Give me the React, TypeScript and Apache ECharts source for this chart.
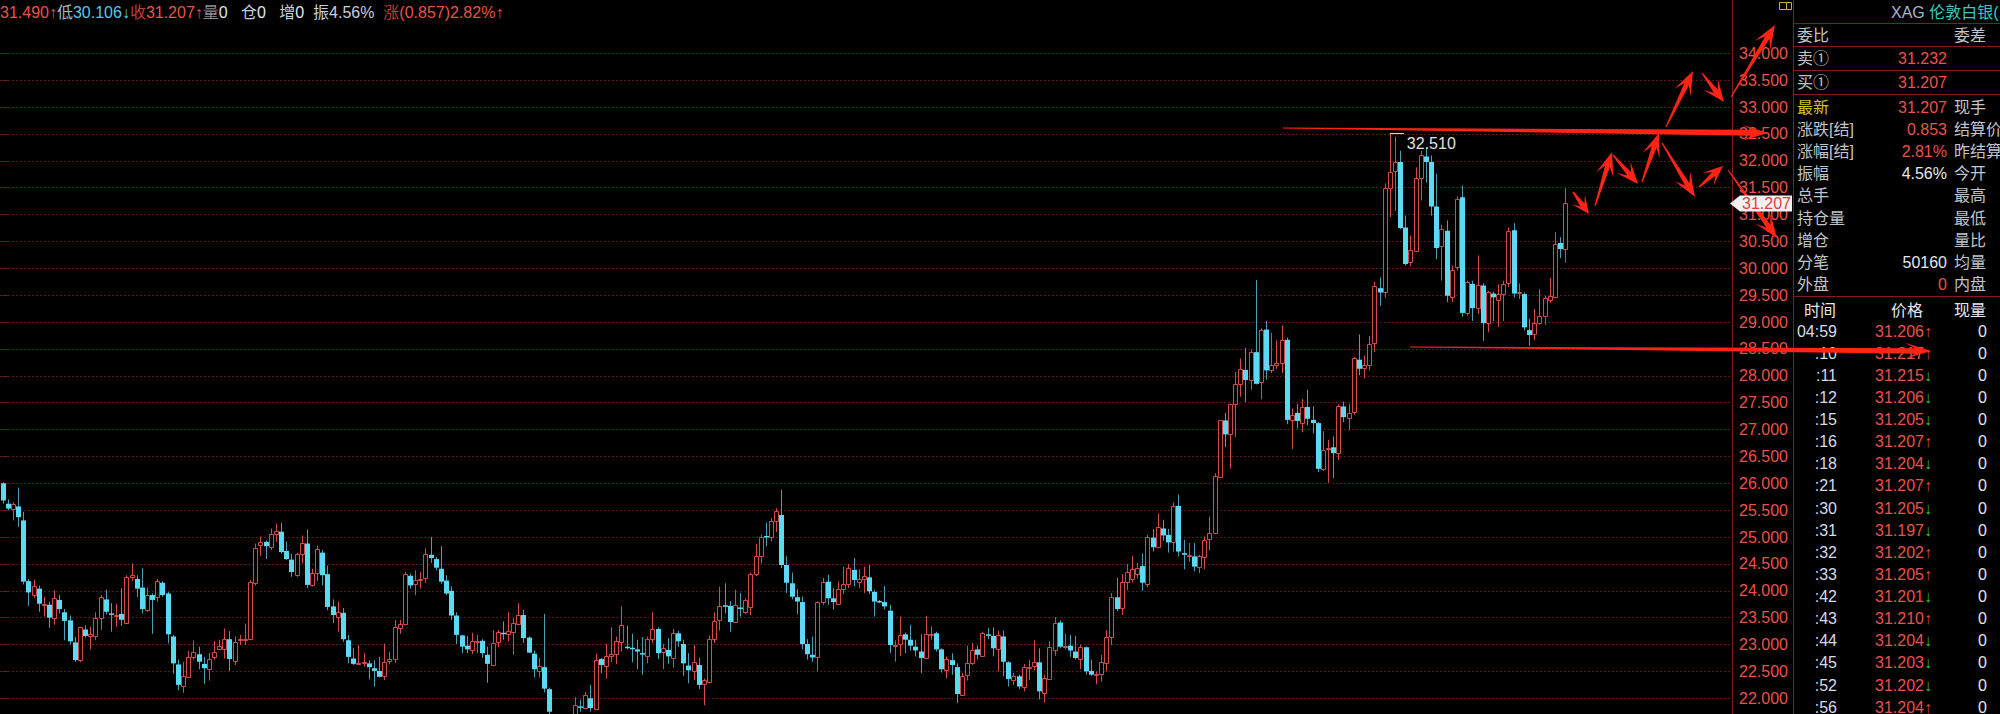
import React, { useEffect, useRef } from "react";
import * as echarts from "echarts";

// ---------- data (XAG candles, oldest -> newest) ----------
const OPEN = [
  26.00, 25.62, 25.53, 25.57, 25.31, 24.18, 23.92, 24.04, 23.73, 23.74,
  23.50, 23.83, 23.60, 23.45, 23.04, 22.71, 23.28, 23.16, 23.16, 23.50,
  23.84, 23.58, 23.54, 23.57, 23.41, 24.25, 24.22, 24.06, 23.64, 23.92,
  23.89, 24.15, 23.95, 23.15, 22.63, 22.23, 22.40, 22.76, 22.82, 22.64,
  22.54, 22.77, 22.92, 22.92, 23.10, 22.69, 23.09, 23.09, 23.10, 24.14,
  24.85, 24.91, 24.82, 25.06, 25.10, 24.74, 24.58, 24.30, 24.68, 24.88,
  24.11, 24.34, 24.71, 24.31, 23.71, 23.52, 23.59, 23.08, 22.74, 22.64,
  22.66, 22.65, 22.56, 22.51, 22.42, 22.69, 22.73, 23.31, 23.39, 24.28,
  24.12, 24.20, 24.23, 24.67, 24.59, 24.41, 24.19, 24.00, 23.54, 23.17,
  22.98, 22.90, 23.05, 23.07, 22.81, 22.62, 23.04, 23.22, 23.19, 23.24,
  23.39, 23.55, 23.13, 22.83, 22.51, 22.58, 22.17, 21.70, 21.45, 21.30,
  21.50, 21.65, 21.85, 21.82, 22.00, 21.80, 22.73, 22.60, 22.78, 22.83,
  23.04, 22.96, 22.94, 22.91, 22.84, 22.79, 23.10, 23.29, 22.87, 22.90,
  22.75, 23.21, 23.01, 22.61, 22.51, 22.62, 22.27, 22.30, 23.10, 23.46,
  23.73, 23.72, 23.42, 23.69, 23.60, 23.69, 24.32, 24.65, 25.02, 25.01,
  25.29, 25.41, 24.48, 24.14, 23.88, 23.79, 23.01, 22.81, 22.76, 23.79,
  24.17, 23.86, 23.76, 24.03, 24.13, 24.39, 24.16, 24.22, 24.25, 23.98,
  23.81, 23.79, 23.63, 22.99, 23.01, 23.19, 23.09, 22.96, 22.87, 22.75,
  23.18, 23.21, 22.91, 22.53, 22.71, 22.58, 22.06, 22.44, 22.65, 22.91,
  22.78, 23.19, 23.16, 22.91, 23.15, 22.67, 22.34, 22.41, 22.21, 22.58,
  22.60, 22.67, 22.10, 22.36, 22.90, 23.41, 22.95, 22.98, 22.87, 22.73,
  22.95, 22.51, 22.44, 22.46, 22.65, 23.14, 23.88, 23.68, 24.16, 24.22,
  24.31, 24.46, 24.13, 24.99, 24.81, 25.16, 25.04, 24.90, 25.58, 24.70,
  24.66, 24.64, 24.44, 24.62, 24.96, 25.08, 26.11, 27.17, 26.92, 27.47,
  27.85, 28.11, 27.93, 28.44, 27.88, 28.86, 28.11, 28.20, 28.23, 28.67,
  27.17, 27.31, 27.12, 27.42, 27.18, 27.12, 26.27, 26.65, 26.67, 26.56,
  27.43, 27.22, 27.33, 28.30, 28.15, 28.20, 28.61, 29.63, 29.55, 31.50,
  31.81, 31.98, 30.76, 30.11, 30.33, 31.68, 32.08, 31.98, 31.15, 30.41,
  30.70, 29.46, 30.02, 31.32, 29.17, 29.71, 29.27, 29.68, 28.98, 29.53,
  29.41, 29.53, 29.72, 30.71, 29.55, 29.52, 28.85, 28.78, 28.98, 29.12,
  29.41, 29.47, 30.47, 30.35,
];
const CLOSE = [
  25.68, 25.53, 25.61, 25.37, 24.17, 23.97, 24.09, 23.76, 23.75, 23.50,
  23.86, 23.66, 23.44, 23.06, 22.71, 23.32, 23.16, 23.20, 23.50, 23.89,
  23.61, 23.57, 23.55, 23.46, 24.26, 24.29, 24.04, 23.66, 23.92, 23.83,
  24.18, 23.92, 23.19, 22.65, 22.25, 22.41, 22.77, 22.86, 22.68, 22.56,
  22.74, 22.87, 22.97, 23.10, 22.73, 23.05, 23.10, 23.11, 24.17, 24.79,
  24.91, 24.83, 25.06, 25.12, 24.72, 24.59, 24.35, 24.68, 24.89, 24.11,
  24.34, 24.77, 24.29, 23.70, 23.55, 23.61, 23.10, 22.77, 22.64, 22.65,
  22.67, 22.58, 22.51, 22.40, 22.68, 22.73, 23.32, 23.39, 24.32, 24.10,
  24.20, 24.22, 24.69, 24.61, 24.43, 24.17, 23.95, 23.54, 23.18, 22.96,
  22.91, 23.06, 23.06, 22.84, 22.64, 23.03, 23.23, 23.21, 23.26, 23.41,
  23.55, 23.12, 22.85, 22.54, 22.60, 22.18, 21.75, 21.45, 21.30, 21.50,
  21.65, 21.88, 21.83, 22.06, 21.82, 22.72, 22.62, 22.79, 22.83, 23.06,
  23.37, 22.95, 22.93, 22.87, 22.83, 23.10, 23.29, 22.84, 22.93, 22.78,
  23.21, 23.06, 22.65, 22.52, 22.67, 22.25, 22.34, 23.10, 23.44, 23.72,
  23.71, 23.42, 23.74, 23.68, 23.83, 24.32, 24.64, 25.01, 25.00, 25.30,
  25.48, 24.48, 24.15, 23.89, 23.80, 23.01, 22.82, 22.76, 23.79, 24.17,
  23.86, 23.79, 24.03, 24.12, 24.42, 24.20, 24.22, 24.27, 23.99, 23.80,
  23.80, 23.71, 22.99, 23.00, 23.18, 23.09, 22.98, 22.89, 22.75, 23.19,
  23.20, 22.91, 22.54, 22.73, 22.62, 22.08, 22.42, 22.65, 22.90, 22.81,
  23.21, 23.17, 22.93, 23.18, 22.68, 22.36, 22.42, 22.22, 22.58, 22.59,
  22.67, 22.13, 22.37, 22.95, 23.41, 22.96, 22.97, 22.89, 22.75, 22.95,
  22.50, 22.44, 22.45, 22.67, 23.14, 23.88, 23.66, 24.17, 24.35, 24.40,
  24.43, 24.15, 25.01, 24.81, 25.18, 25.03, 24.90, 25.58, 24.73, 24.67,
  24.67, 24.45, 24.64, 24.95, 25.08, 26.14, 27.17, 26.91, 27.47, 27.84,
  28.13, 27.92, 28.44, 27.85, 28.86, 28.10, 28.21, 28.23, 28.67, 27.18,
  27.28, 27.16, 27.42, 27.20, 27.12, 26.27, 26.62, 26.66, 26.56, 27.43,
  27.23, 27.31, 28.34, 28.13, 28.20, 28.60, 29.67, 29.55, 31.50, 31.79,
  31.98, 30.75, 30.08, 30.34, 31.68, 32.10, 31.98, 31.15, 30.38, 30.73,
  29.49, 29.97, 31.29, 29.17, 29.74, 29.26, 29.69, 28.98, 29.55, 29.46,
  29.52, 29.71, 30.70, 29.53, 29.56, 28.90, 28.76, 28.98, 29.12, 29.45,
  29.49, 30.45, 30.36, 31.207,
];
const HIGH = [
  26.02, 25.70, 25.65, 25.92, 25.47, 24.22, 24.21, 24.10, 23.89, 23.80,
  24.01, 23.92, 23.66, 23.54, 23.14, 23.33, 23.36, 23.33, 23.60, 23.92,
  24.02, 23.77, 23.76, 24.05, 24.29, 24.51, 24.29, 24.42, 24.06, 23.95,
  24.22, 24.18, 23.98, 23.18, 22.72, 22.68, 22.88, 23.08, 22.96, 22.77,
  22.84, 23.06, 23.09, 23.30, 23.25, 23.15, 23.18, 23.39, 24.20, 24.88,
  25.01, 24.94, 25.16, 25.25, 25.27, 24.91, 24.69, 24.71, 25.03, 25.14,
  24.41, 24.84, 24.76, 24.47, 23.84, 23.80, 23.68, 23.18, 22.93, 22.99,
  22.84, 22.71, 22.71, 22.77, 23.02, 22.87, 23.46, 23.46, 24.35, 24.32,
  24.38, 24.35, 24.79, 25.00, 24.63, 24.83, 24.29, 24.08, 23.60, 23.18,
  23.16, 23.22, 23.18, 23.10, 22.96, 23.27, 23.27, 23.43, 23.60, 23.49,
  23.77, 23.65, 23.15, 22.89, 22.75, 23.57, 22.20, 21.70, 21.52, 21.58,
  21.69, 22.02, 21.97, 22.12, 22.25, 22.83, 22.75, 23.01, 23.32, 23.15,
  23.71, 23.35, 23.20, 23.09, 23.14, 23.15, 23.60, 23.32, 23.01, 23.12,
  23.29, 23.26, 23.09, 22.84, 22.99, 22.75, 22.37, 23.17, 23.60, 24.08,
  24.14, 23.81, 24.02, 23.96, 23.86, 24.34, 24.87, 25.04, 25.27, 25.35,
  25.54, 25.88, 24.64, 24.34, 24.03, 23.89, 23.10, 23.15, 23.80, 24.24,
  24.30, 24.05, 24.17, 24.45, 24.50, 24.61, 24.40, 24.45, 24.48, 24.02,
  23.83, 24.09, 23.74, 23.08, 23.52, 23.22, 23.37, 23.09, 23.19, 23.53,
  23.34, 23.24, 22.93, 22.78, 22.84, 22.65, 22.47, 22.98, 23.03, 22.98,
  23.24, 23.31, 23.32, 23.26, 23.26, 22.69, 22.47, 22.44, 22.64, 22.72,
  23.08, 22.93, 22.44, 23.06, 23.51, 23.45, 23.20, 23.18, 23.16, 23.00,
  22.96, 22.72, 22.50, 22.81, 23.27, 23.96, 24.24, 24.31, 24.50, 24.65,
  24.52, 24.69, 25.04, 25.15, 25.44, 25.32, 25.15, 25.64, 25.79, 24.95,
  24.89, 24.89, 24.67, 25.01, 25.38, 26.19, 27.18, 27.31, 27.48, 28.07,
  28.32, 28.52, 28.49, 29.78, 28.88, 29.02, 28.80, 28.66, 28.94, 28.71,
  27.39, 27.48, 27.57, 27.74, 27.43, 27.14, 26.97, 26.81, 26.87, 27.47,
  27.52, 27.48, 28.35, 28.77, 28.38, 28.74, 29.75, 29.83, 31.58, 32.51,
  32.45, 32.19, 30.98, 30.61, 31.88, 32.19, 32.25, 32.10, 31.76, 30.81,
  30.89, 30.05, 31.34, 31.54, 29.77, 29.77, 30.24, 29.72, 29.58, 29.57,
  29.70, 29.77, 30.76, 30.84, 29.72, 29.55, 29.06, 29.24, 29.61, 29.49,
  29.82, 30.67, 30.58, 31.49,
];
const LOW = [
  25.62, 25.50, 25.31, 25.19, 24.12, 23.72, 23.87, 23.61, 23.52, 23.31,
  23.37, 23.58, 23.08, 23.00, 22.68, 22.67, 23.13, 22.91, 23.08, 23.27,
  23.56, 23.24, 23.33, 23.35, 23.40, 24.18, 23.88, 23.58, 23.61, 23.20,
  23.80, 23.89, 23.02, 22.46, 22.15, 22.10, 22.39, 22.72, 22.54, 22.27,
  22.33, 22.71, 22.90, 22.74, 22.51, 22.62, 22.99, 22.99, 23.08, 24.10,
  24.65, 24.59, 24.76, 24.91, 24.69, 24.57, 24.26, 24.26, 24.51, 24.05,
  24.08, 24.18, 24.10, 23.64, 23.40, 23.24, 23.05, 22.65, 22.62, 22.62,
  22.59, 22.35, 22.22, 22.39, 22.34, 22.63, 22.66, 23.20, 23.36, 24.04,
  23.92, 24.04, 24.15, 24.52, 24.38, 24.13, 23.92, 23.46, 23.01, 22.84,
  22.84, 22.83, 22.84, 22.75, 22.29, 22.60, 22.95, 23.09, 23.06, 22.81,
  23.37, 23.03, 22.84, 22.39, 22.39, 22.11, 21.60, 21.35, 21.22, 21.25,
  21.42, 21.60, 21.75, 21.79, 21.75, 21.79, 22.47, 22.37, 22.67, 22.64,
  22.87, 22.91, 22.67, 22.54, 22.44, 22.65, 23.03, 22.73, 22.54, 22.64,
  22.57, 22.96, 22.42, 22.28, 22.34, 22.17, 21.87, 22.28, 23.03, 23.26,
  23.58, 23.24, 23.40, 23.52, 23.57, 23.55, 24.27, 24.51, 24.83, 24.92,
  25.09, 24.42, 23.96, 23.84, 23.57, 22.91, 22.72, 22.68, 22.50, 23.74,
  23.74, 23.65, 23.74, 23.94, 24.05, 24.08, 24.05, 23.96, 23.94, 23.52,
  23.77, 23.65, 22.84, 22.68, 22.79, 22.84, 22.89, 22.78, 22.47, 22.73,
  23.09, 22.87, 22.48, 22.37, 22.44, 21.91, 22.05, 22.33, 22.62, 22.72,
  22.77, 23.10, 22.78, 22.50, 22.41, 22.22, 22.25, 22.17, 22.13, 22.34,
  22.52, 21.98, 21.92, 22.34, 22.79, 22.93, 22.91, 22.77, 22.72, 22.54,
  22.44, 22.42, 22.26, 22.31, 22.50, 22.99, 23.62, 23.55, 24.01, 24.16,
  24.23, 24.00, 24.07, 24.73, 24.79, 24.93, 24.71, 24.73, 24.64, 24.40,
  24.54, 24.36, 24.33, 24.40, 24.75, 25.07, 26.10, 26.67, 26.27, 26.86,
  27.61, 27.51, 27.74, 27.84, 27.56, 27.93, 28.05, 28.13, 28.05, 27.10,
  26.64, 27.02, 26.95, 27.08, 26.93, 26.21, 26.23, 26.01, 26.10, 26.43,
  27.14, 26.98, 27.28, 28.01, 27.95, 28.10, 28.44, 29.30, 29.45, 30.95,
  31.07, 30.73, 30.05, 30.04, 30.30, 31.26, 31.60, 30.98, 30.17, 29.77,
  29.37, 29.37, 29.96, 29.10, 29.12, 29.02, 29.15, 28.65, 28.81, 29.02,
  28.91, 29.02, 29.65, 29.46, 29.43, 28.84, 28.56, 28.66, 28.95, 28.95,
  29.35, 29.46, 30.19, 30.106,
];

// y-axis ticks
const Y_MIN = 21.5;
const Y_MAX = 34;
const Y_STEP = 0.5;
const Y_LABEL_MIN = 22;

// header strip
const HEADER_PARTS: [string, string][] = [
  ["r", "31.490↑"], ["lb", "低"], ["c", "30.106↓"], ["dr", "收"], ["r", "31.207↑"],
  ["dg", "量"], ["w", "0   "], ["g", "仓"], ["w", "0   "], ["g", "增"], ["w", "0  "],
  ["g", "振"], ["g", "4.56%  "], ["dr", "涨"], ["r", "(0.857)2.82%↑"],
];

// right quote panel
const TITLE_CODE = "XAG ";
const TITLE_NAME = "伦敦白银(";
const BOOK_LABELS = ["卖①", "买①"];
const BOOK_VALUES = ["31.232", "31.207"];
const INFO_LABELS = ["最新", "涨跌[结]", "涨幅[结]", "振幅", "总手", "持仓量", "增仓", "分笔", "外盘"];
const INFO_VALUES = ["31.207", "0.853", "2.81%", "4.56%", "", "", "", "50160", "0"];
const INFO_VALUE_KIND = ["r", "r", "r", "w", "w", "w", "w", "w", "r"];
const INFO_RIGHT = ["现手", "结算价", "昨结算", "今开", "最高", "最低", "量比", "均量", "内盘"];
const TICK_TIMES = ["04:59", ":10", ":11", ":12", ":15", ":16", ":18", ":21", ":30", ":31", ":32", ":33", ":42", ":43", ":44", ":45", ":52", ":56"];
const TICK_PRICES = ["31.206", "31.217", "31.215", "31.206", "31.205", "31.207", "31.204", "31.207", "31.205", "31.197", "31.202", "31.205", "31.201", "31.210", "31.204", "31.203", "31.202", "31.204"];
const TICK_DIRS = ["↑", "↑", "↓", "↓", "↓", "↑", "↓", "↑", "↓", "↓", "↑", "↑", "↓", "↑", "↓", "↓", "↓", "↑"];
const TICK_VOLS = ["0", "0", "0", "0", "0", "0", "0", "0", "0", "0", "0", "0", "0", "0", "0", "0", "0", "0"];

// hand-drawn annotation arrows (pixel coords: tail x, tail y, tip x, tip y, tail width, neck width, head length, head half width)
const ARROWS: number[][] = [
  [1283, 128, 1768, 133, 0.8, 6, 26, 8],
  [1410, 347, 1931, 351, 0.8, 5.5, 26, 8],
  [1573, 192, 1589, 214, 1.5, 5, 18, 8],
  [1595, 206, 1612, 152, 1.2, 5, 24, 9],
  [1613, 155, 1638, 184, 1.2, 5, 22, 9],
  [1642, 182, 1659, 133, 1.2, 5, 24, 9],
  [1662, 143, 1695, 197, 1.2, 5, 24, 9],
  [1699, 187, 1723, 166, 1.2, 5, 20, 8.5],
  [1728, 170, 1777, 238, 1, 5, 24, 9],
  [1666, 127, 1693, 71, 1.2, 5, 24, 9],
  [1702, 73, 1724, 102, 1.2, 5, 22, 9],
  [1731, 97, 1775, 25, 1, 5, 24, 9],
];

// ---------- styles ----------
const FONT = '"Liberation Sans", Arial, "Noto Sans CJK SC", sans-serif';
const RED = "#e8524a";
const CANDLE_RED = "#d44a48";
const CYAN = "#5cdaf4";
const CYAN_WICK = "#4c9fb2";
const GRID_C = "#5e1717";
const FRAME_C = "#7a1e1e";
const GRAY = "#c2c4cc";
const WHITE = "#e4e6ee";
const ARROW_RED = "#ff2414";

const CANDLE_STEP = 5.164;
const FIRST_X = 0.3;
const AXIS_X = 1732;
const PANEL_X = 1794;
const VIEW_H = 714;
const CANVAS_H = 726;

function arrowPoints(a: number[]) {
  const [x1, y1, x2, y2, w0, w1, hl, hw] = a;
  const dx = x2 - x1, dy = y2 - y1;
  const L = Math.hypot(dx, dy);
  const ux = dx / L, uy = dy / L;
  const nx = -uy, ny = ux;
  const neck = [x2 - ux * hl * 0.62, y2 - uy * hl * 0.62];
  const barb = [x2 - ux * hl, y2 - uy * hl];
  return [
    [x1 + nx * w0 / 2, y1 + ny * w0 / 2],
    [neck[0] + nx * w1 / 2, neck[1] + ny * w1 / 2],
    [barb[0] + nx * hw, barb[1] + ny * hw],
    [x2, y2],
    [barb[0] - nx * hw, barb[1] - ny * hw],
    [neck[0] - nx * w1 / 2, neck[1] - ny * w1 / 2],
    [x1 - nx * w0 / 2, y1 - ny * w0 / 2],
  ];
}

function txt(x: number, y: number, text: string, fill: string, align = "left", extra: any = {}) {
  return {
    type: "text",
    x,
    y,
    z: 100,
    silent: true,
    style: { text, fill, fontSize: 16, fontFamily: FONT, align, verticalAlign: "middle", ...extra },
  };
}

function hline(x1: number, x2: number, y: number, color = FRAME_C) {
  return { type: "line", z: 100, silent: true, shape: { x1, y1: y, x2, y2: y }, style: { stroke: color, lineWidth: 1 } };
}

export default function App() {
  const ref = useRef<HTMLDivElement>(null);

  useEffect(() => {
    const chart = echarts.init(ref.current!, null, { renderer: "svg" });
    const data = OPEN.map((o, i) => [i, o, CLOSE[i], LOW[i], HIGH[i]]);
    const gridLeft = FIRST_X - CANDLE_STEP / 2;
    const xMax = -0.5 + (AXIS_X - gridLeft) / CANDLE_STEP;
    const gridTop = 53.3;
    const gridBottom = CANVAS_H - (gridTop + 53.75 * (Y_MAX - Y_MIN));

    chart.setOption({
      animation: false,
      backgroundColor: "#000",
      grid: { left: gridLeft, right: 2000 - AXIS_X, top: gridTop, bottom: gridBottom },
      xAxis: { type: "value", min: -0.5, max: xMax, show: false },
      yAxis: {
        type: "value",
        position: "right",
        min: Y_MIN,
        max: Y_MAX,
        interval: Y_STEP,
        axisLine: { show: false },
        axisTick: { show: true, length: 5, lineStyle: { color: FRAME_C } },
        axisLabel: {
          color: RED,
          fontSize: 16,
          fontFamily: FONT,
          align: "right",
          margin: 56,
          formatter: (v: number) => (v < Y_LABEL_MIN ? "" : v.toFixed(3)),
        },
        splitLine: { show: true, lineStyle: { color: GRID_C, width: 1, type: [2, 2] } },
      },
      series: [
        {
          type: "custom",
          data,
          encode: { x: 0, y: [1, 2, 3, 4] },
          clip: true,
          renderItem: (_p: any, api: any) => {
            const i = api.value(0);
            const o = api.value(1), c = api.value(2), l = api.value(3), h = api.value(4);
            const pO = api.coord([i, o]);
            const yC = api.coord([i, c])[1];
            const yL = api.coord([i, l])[1];
            const yH = api.coord([i, h])[1];
            const xr = Math.round(pO[0]);
            const x = xr + 0.5;
            const top = Math.min(pO[1], yC);
            const bot = Math.max(pO[1], yC);
            if (c >= o) {
              const t = Math.round(top) + 0.5;
              const b = Math.max(Math.round(bot) + 0.5, t + 1);
              return {
                type: "group",
                children: [
                  { type: "line", shape: { x1: x, y1: yH, x2: x, y2: t }, style: { stroke: CANDLE_RED, lineWidth: 1 } },
                  { type: "line", shape: { x1: x, y1: b, x2: x, y2: yL }, style: { stroke: CANDLE_RED, lineWidth: 1 } },
                  { type: "rect", shape: { x: xr - 1.5, y: t, width: 4, height: b - t }, style: { fill: "#000", stroke: CANDLE_RED, lineWidth: 1 } },
                ],
              };
            }
            return {
              type: "group",
              children: [
                { type: "line", shape: { x1: x, y1: yH, x2: x, y2: yL }, style: { stroke: CYAN_WICK, lineWidth: 1 } },
                { type: "rect", shape: { x: xr - 2, y: top, width: 5, height: Math.max(bot - top, 1.5) }, style: { fill: CYAN } },
              ],
            };
          },
        },
      ],
    });

    // pixel anchors taken from the chart's own scales
    const last = OPEN.length - 1;
    const lastY = chart.convertToPixel({ gridIndex: 0 }, [last, CLOSE[last]])[1];
    let hi = 0;
    HIGH.forEach((v, i) => { if (v > HIGH[hi]) hi = i; });
    const hiPt = chart.convertToPixel({ gridIndex: 0 }, [hi, HIGH[hi]]);

    const g: any[] = [];
    // frame lines
    g.push({ type: "line", z: 100, silent: true, shape: { x1: AXIS_X + 0.5, y1: 0, x2: AXIS_X + 0.5, y2: VIEW_H }, style: { stroke: FRAME_C, lineWidth: 1 } });
    g.push({ type: "line", z: 100, silent: true, shape: { x1: PANEL_X - 0.5, y1: 0, x2: PANEL_X - 0.5, y2: VIEW_H }, style: { stroke: FRAME_C, lineWidth: 1 } });
    [23.5, 46.5, 70.5, 94.5, 296.5].forEach((y) => g.push(hline(PANEL_X, 2000, y)));

    // small yellow icon
    g.push({ type: "rect", z: 100, silent: true, shape: { x: 1779.5, y: 2.5, width: 12, height: 7 }, style: { fill: "none", stroke: "#c8b232", lineWidth: 1 } });
    g.push({ type: "line", z: 100, silent: true, shape: { x1: 1786.5, y1: 2.5, x2: 1786.5, y2: 9.5 }, style: { stroke: "#c8b232", lineWidth: 1 } });

    // header strip
    const richH: any = {
      r: { fill: RED, fontSize: 16, fontFamily: FONT },
      lb: { fill: "#a9b9d2", fontSize: 16, fontFamily: FONT },
      c: { fill: "#55c9ea", fontSize: 16, fontFamily: FONT },
      dr: { fill: "#bd3f3c", fontSize: 16, fontFamily: FONT },
      dg: { fill: "#8c8c90", fontSize: 16, fontFamily: FONT },
      w: { fill: WHITE, fontSize: 16, fontFamily: FONT },
      g: { fill: "#c6cedd", fontSize: 16, fontFamily: FONT },
    };
    g.push(txt(0, 12, HEADER_PARTS.map(([k, t]) => `{${k}|${t}}`).join(""), WHITE, "left", { rich: richH }));

    // panel title
    g.push(txt(1891, 12, `{a|${TITLE_CODE}}{b|${TITLE_NAME}}`, WHITE, "left", {
      rich: {
        a: { fill: "#a8b4cc", fontSize: 16, fontFamily: FONT },
        b: { fill: "#3ec6c6", fontSize: 16, fontFamily: FONT },
      },
    }));
    g.push(txt(1797, 35, "委比", GRAY));
    g.push(txt(1954, 35, "委差", GRAY));
    BOOK_LABELS.forEach((l, k) => {
      const y = 58.7 + k * 23.3;
      g.push(txt(1797, y, l, GRAY));
      g.push(txt(1947, y, BOOK_VALUES[k], RED, "right"));
    });
    INFO_LABELS.forEach((l, k) => {
      const y = 107 + k * 22.2;
      g.push(txt(1797, y, l, k === 0 ? "#d6c224" : GRAY));
      if (INFO_VALUES[k]) g.push(txt(1947, y, INFO_VALUES[k], INFO_VALUE_KIND[k] === "r" ? RED : WHITE, "right"));
      g.push(txt(1954, y, INFO_RIGHT[k], GRAY));
    });
    g.push(txt(1820, 310, "时间", WHITE, "center"));
    g.push(txt(1907, 310, "价格", WHITE, "center"));
    g.push(txt(1970, 310, "现量", WHITE, "center"));
    TICK_TIMES.forEach((t, k) => {
      const y = 331 + k * 22.13;
      g.push(txt(1837, y, t, "#d4dcea", "right"));
      const up = TICK_DIRS[k] === "↑";
      g.push(txt(1932, y, `{p|${TICK_PRICES[k]}}{d|${TICK_DIRS[k]}}`, RED, "right", {
        rich: {
          p: { fill: RED, fontSize: 16, fontFamily: FONT },
          d: { fill: up ? "#e0483e" : "#2fbf3a", fontSize: 16, fontFamily: FONT },
        },
      }));
      g.push(txt(1987, y, TICK_VOLS[k], WHITE, "right"));
    });

    // highest-price marker
    g.push({ type: "line", z: 100, silent: true, shape: { x1: hiPt[0], y1: Math.round(hiPt[1]) + 0.5, x2: hiPt[0] + 14, y2: Math.round(hiPt[1]) + 0.5 }, style: { stroke: "#d8d8d8", lineWidth: 1 } });
    g.push(txt(hiPt[0] + 17, hiPt[1] + 2, HIGH[hi].toFixed(3), "#e2e2e2", "left", { verticalAlign: "top" }));

    // arrows
    ARROWS.forEach((a) => g.push({ type: "polygon", z: 110, silent: true, shape: { points: arrowPoints(a) }, style: { fill: ARROW_RED } }));

    // last price tag on the axis
    g.push({
      type: "polygon", z: 120, silent: true,
      shape: { points: [[AXIS_X - 2, lastY], [AXIS_X + 8, lastY - 8], [1792, lastY - 8], [1792, lastY + 8], [AXIS_X + 8, lastY + 8]] },
      style: { fill: "#f1f1f1" },
    });
    g.push({ ...txt(1791, lastY, CLOSE[last].toFixed(3), "#e0403a", "right"), z: 121 });

    chart.setOption({ graphic: g });
    return () => chart.dispose();
  }, []);

  return (
    <div style={{ position: "fixed", left: 0, top: 0, width: 2000, height: VIEW_H, overflow: "hidden", background: "#000" }}>
      <div ref={ref} style={{ width: 2000, height: CANVAS_H }} />
    </div>
  );
}
